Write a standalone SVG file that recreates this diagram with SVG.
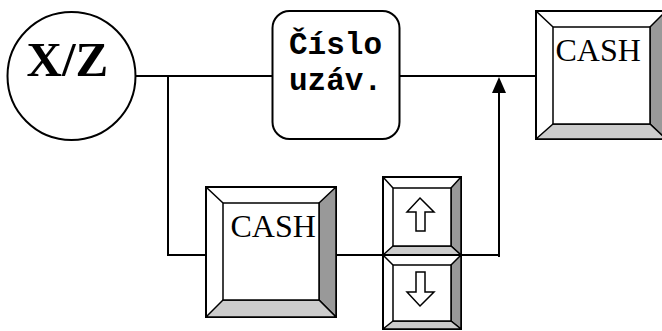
<svg xmlns="http://www.w3.org/2000/svg" width="662" height="331" viewBox="0 0 662 331">
<defs>
<style>
.ln{stroke:#000;stroke-width:2;fill:none}
.outer{fill:#fff;stroke:#000;stroke-width:2}
.inner{fill:#fff;stroke:#000;stroke-width:1.5}
.dg{fill:#999;stroke:#000;stroke-width:1.5;stroke-linejoin:round}
.lg{fill:#ccc;stroke:#000;stroke-width:1.5;stroke-linejoin:round}
.dia{stroke:#000;stroke-width:1.5}
.cash{font-family:"Liberation Serif","Times New Roman",serif;font-size:32px;fill:#000}
.mono{font-family:"Liberation Mono","Courier New",monospace;font-weight:bold;font-size:31px;fill:#000}
.harrow{fill:#fff;stroke:#000;stroke-width:1.5;stroke-linejoin:miter}
</style>
</defs>
<g id="connectors">
<line class="ln" x1="136" y1="76" x2="273" y2="76"/>
<line class="ln" x1="400" y1="76" x2="536" y2="76"/>
<polyline class="ln" points="168,76 168,255 206,255"/>
<line class="ln" x1="336" y1="255" x2="383" y2="255"/>
<polyline class="ln" points="461,255 499,255"/>
<path d="M499,257 L499,93" class="ln"/>
<path d="M499,77 L506,93 L492,93 Z" fill="#000"/>
</g>
<g id="node-xz">
<circle cx="71.5" cy="76" r="64" fill="#fff" stroke="#000" stroke-width="2"/>
<text x="26.5" y="76" font-family="'Liberation Serif','Times New Roman',serif" font-weight="bold" font-size="49" fill="#000">X/Z</text>
</g>
<g id="node-cislo">
<rect x="272.5" y="11" width="127" height="128" rx="17" ry="17" fill="#fff" stroke="#000" stroke-width="2"/>
<text class="mono" x="289" y="54">Číslo</text>
<text class="mono" x="289" y="90">uzáv.</text>
</g>
<g id="node-cash-top">
<rect class="outer" x="536" y="11" width="130" height="128"/>
<polygon class="dg" points="650,27 666,11 666,139 650,124"/>
<polygon class="lg" points="536,139 553,124 650,124 666,139"/>
<line class="dia" x1="536" y1="11" x2="553" y2="27"/>
<rect class="inner" x="553" y="27" width="97" height="97"/>
<text class="cash" x="555.5" y="60.5">CASH</text>
</g>
<g id="node-cash-bottom">
<rect class="outer" x="206" y="187" width="130" height="130"/>
<polygon class="dg" points="319,203 336,187 336,317 319,300"/>
<polygon class="lg" points="206,317 223,300 319,300 336,317"/>
<line class="dia" x1="206" y1="187" x2="223" y2="203"/>
<rect class="inner" x="223" y="203" width="96" height="97"/>
<text class="cash" x="230.5" y="236.5">CASH</text>
</g>
<g id="node-up">
<rect class="outer" x="383" y="177" width="78" height="78"/>
<polygon class="dg" points="451,188 461,177 461,255 451,246"/>
<polygon class="lg" points="383,255 393,246 451,246 461,255"/>
<line class="dia" x1="383" y1="177" x2="393" y2="188"/>
<rect class="inner" x="393" y="188" width="58" height="58"/>
<polygon class="harrow" points="420,198 434,212 425,212 425,231 416,231 416,212 407,212"/>
</g>
<g id="node-down">
<rect class="outer" x="383" y="255" width="78" height="74"/>
<polygon class="dg" points="451,265 461,255 461,329 451,321"/>
<polygon class="lg" points="383,329 393,321 451,321 461,329"/>
<line class="dia" x1="383" y1="255" x2="393" y2="265"/>
<rect class="inner" x="393" y="265" width="58" height="56"/>
<polygon class="harrow" points="420,306 434,292 425,292 425,272 416,272 416,292 407,292"/>
</g>
</svg>
